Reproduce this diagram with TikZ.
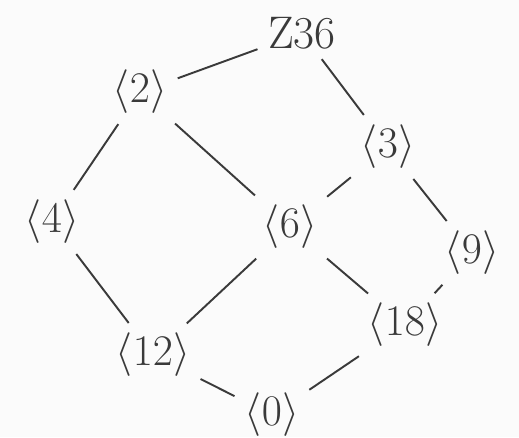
\documentclass[tikz,border=0pt]{standalone}
\usepackage{tikz}
\usetikzlibrary{positioning}
\definecolor{pencil}{HTML}{3A3A3A}
\definecolor{paper}{HTML}{FBFBFB}

\begin{document}
\begin{tikzpicture}[x=0.02cm, y=-0.02cm]
  \tikzstyle{ideal}=[text=pencil, inner sep=4pt,
    font=\fontsize{26}{30}\selectfont]
  \tikzstyle{edge}=[draw=pencil, line width=1.1pt, shorten <=2pt, shorten >=2pt]

  \fill[paper] (0,0) rectangle (519,437);
  \useasboundingbox (0,0) rectangle (519,437);

  \node[ideal] (z36) at (302,33) {Z36};
  \node[ideal] (i2)  at (140,92) {$\langle 2\rangle$};
  \node[ideal] (i3)  at (388,147) {$\langle 3\rangle$};
  \node[ideal] (i4)  at (52,222) {$\langle 4\rangle$};
  \node[ideal] (i6)  at (290,227) {$\langle 6\rangle$};
  \node[ideal] (i9)  at (472,253) {$\langle 9\rangle$};
  \node[ideal] (i12) at (153,355) {$\langle 12\rangle$};
  \node[ideal] (i18) at (405,325) {$\langle 18\rangle$};
  \node[ideal] (i0)  at (272,415) {$\langle 0\rangle$};

  \draw[edge] (z36)--(i2);
  \draw[edge] (z36)--(i3);
  \draw[edge] (i2)--(i4);
  \draw[edge] (i2)--(i6);
  \draw[edge] (i3)--(i6);
  \draw[edge] (i3)--(i9);
  \draw[edge] (i4)--(i12);
  \draw[edge] (i6)--(i12);
  \draw[edge] (i6)--(i18);
  \draw[edge] (i9)--(i18);
  \draw[edge] (i12)--(i0);
  \draw[edge] (i18)--(i0);
\end{tikzpicture}
\end{document}
